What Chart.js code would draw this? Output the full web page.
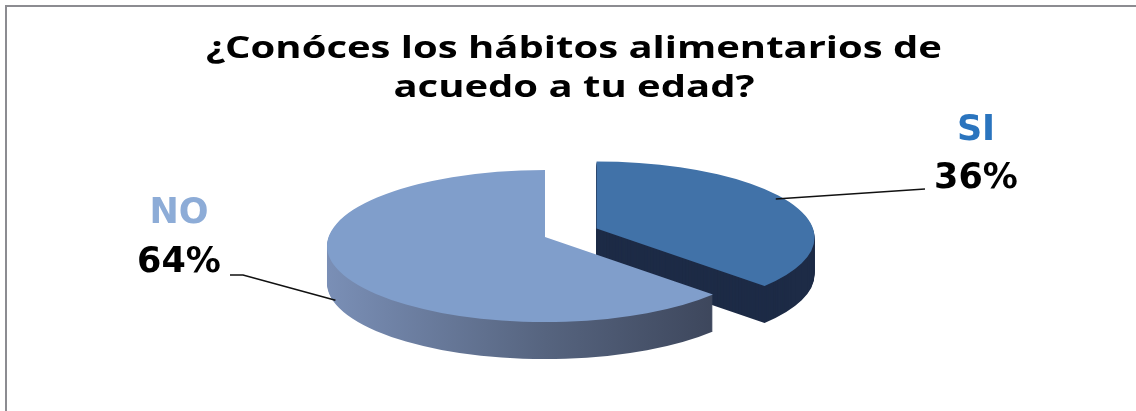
<!DOCTYPE html>
<html>
<head>
<meta charset="utf-8">
<script src="https://cdn.jsdelivr.net/npm/chart.js@4"></script>
<style>
  html, body { margin: 0; padding: 0; background: #fff; }
  #wrap { width: 1136px; height: 411px; }
</style>
</head>
<body>
<div id="wrap"><canvas id="myChart" width="1136" height="411"></canvas></div>
<script>
// chart data
const categories = ['SI', 'NO'];
const values = [36, 64];
const titleLines = ['¿Conóces los hábitos alimentarios de', 'acuedo a tu edad?'];

const topColors = ['#4172A8', '#809ECB'];
const labelColors = ['#2A74BE', '#8DACD7'];

const TILT = 0.349;    // squash of the pie (ry / rx)
const DEPTH = 37;      // thickness of the 3d pie
const APEX_LIFT = 9;   // fake perspective: the tip of each slice sits a bit higher

// where the label text sits
const labelPos = [
  { x: 976, nameY: 131, pctY: 179, lineEnd: [925, 189] },
  { x: 179, nameY: 214, pctY: 263, lineEnd: [230, 275], elbow: [243, 275] }
];
// where on the slice the leader line starts (fraction of the slice angle, fraction of radius, fraction of depth)
const leaderAt = [[0.45, 0.966, 0], [0.54, 1, 0.9]];

function sliceCenter(arc) {
  const mid = (arc.startAngle + arc.endAngle) / 2;
  const off = arc.options.offset || 0;
  return { x: arc.x + Math.cos(mid) * off, y: arc.y + Math.sin(mid) * off * TILT };
}

function slicePath(ctx, c, r, a0, a1, dy) {
  ctx.beginPath();
  ctx.moveTo(c.x, c.y + dy - APEX_LIFT);
  ctx.ellipse(c.x, c.y + dy, r, r * TILT, 0, a0, a1);
  ctx.closePath();
}

const pie3d = {
  id: 'pie3d',
  beforeDatasetDraw(chart, args) {
    const ctx = chart.ctx;
    const arcs = args.meta.data;
    ctx.save();
    // side walls first
    arcs.forEach((arc, i) => {
      const c = sliceCenter(arc);
      const r = arc.outerRadius;
      let fill;
      if (i === 0) {
        fill = '#1D2B46';
      } else {
        fill = ctx.createLinearGradient(c.x - r, 0, c.x + r, 0);
        fill.addColorStop(0, '#7A8FB6');
        fill.addColorStop(0.5, '#56647F');
        fill.addColorStop(1, '#363E52');
      }
      ctx.fillStyle = fill;
      for (let d = DEPTH; d >= 1; d--) {
        slicePath(ctx, c, r, arc.startAngle, arc.endAngle, d);
        ctx.fill();
      }
    });
    // then the top faces
    arcs.forEach((arc) => {
      const c = sliceCenter(arc);
      ctx.fillStyle = arc.options.backgroundColor;
      slicePath(ctx, c, arc.outerRadius, arc.startAngle, arc.endAngle, 0);
      ctx.fill();
    });
    ctx.restore();
    return false;
  },
  afterDraw(chart) {
    const ctx = chart.ctx;
    const arcs = chart.getDatasetMeta(0).data;
    const total = values.reduce((a, b) => a + b, 0);
    ctx.save();
    // frame
    ctx.fillStyle = '#8C8C91';
    ctx.fillRect(5, 5, 1131, 2);
    ctx.fillRect(5, 5, 2, 406);

    // title, a little stretched sideways like the original
    ctx.fillStyle = '#000';
    ctx.textAlign = 'center';
    ctx.textBaseline = 'alphabetic';
    ctx.font = 'bold 31px "Open Sans"';
    [58, 97].forEach((y, i) => {
      ctx.save();
      ctx.translate(574, y);
      ctx.scale(1.29, 1);
      ctx.fillText(titleLines[i], 0, 0);
      ctx.restore();
    });

    arcs.forEach((arc, i) => {
      const c = sliceCenter(arc);
      const [f, rf, df] = leaderAt[i];
      const a = arc.startAngle + (arc.endAngle - arc.startAngle) * f;
      const sx = c.x + Math.cos(a) * arc.outerRadius * rf;
      const sy = c.y + Math.sin(a) * arc.outerRadius * rf * TILT + DEPTH * df;
      const lp = labelPos[i];
      ctx.strokeStyle = '#111';
      ctx.lineWidth = 1.6;
      ctx.beginPath();
      ctx.moveTo(sx, sy);
      if (lp.elbow) ctx.lineTo(lp.elbow[0], lp.elbow[1]);
      ctx.lineTo(lp.lineEnd[0], lp.lineEnd[1]);
      ctx.stroke();

      ctx.textAlign = 'center';
      ctx.textBaseline = 'middle';
      ctx.font = 'bold 35px "DejaVu Sans"';
      ctx.fillStyle = labelColors[i];
      ctx.fillText(categories[i], lp.x, lp.nameY);
      ctx.fillStyle = '#000';
      ctx.fillText(Math.round(values[i] / total * 100) + '%', lp.x, lp.pctY);
    });
    ctx.restore();
  }
};

const ctx = document.getElementById('myChart').getContext('2d');
new Chart(ctx, {
  type: 'pie',
  data: {
    labels: categories,
    datasets: [{
      data: values,
      backgroundColor: topColors,
      borderWidth: 0,
      offset: [57, 0],
      radius: 218
    }]
  },
  options: {
    responsive: false,
    animation: false,
    layout: { padding: { left: 0, right: 46, top: 106, bottom: 25 } },
    plugins: {
      legend: { display: false },
      tooltip: { enabled: false },
      title: { display: false }
    }
  },
  plugins: [pie3d]
});
</script>
</body>
</html>
